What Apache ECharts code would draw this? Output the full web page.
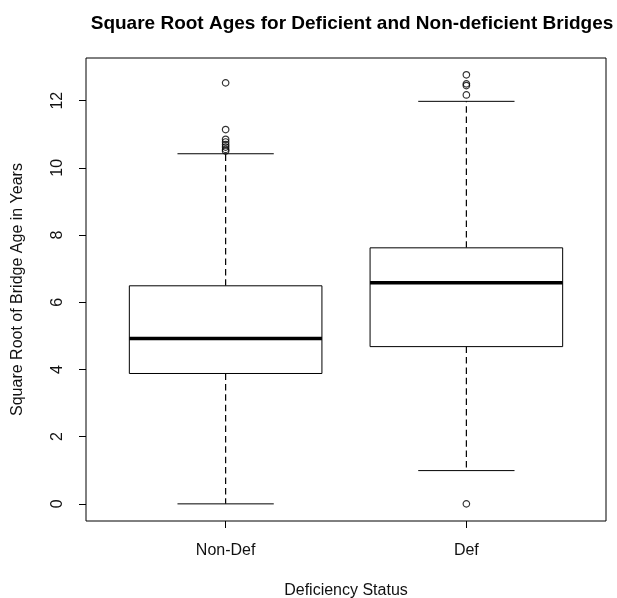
<!DOCTYPE html>
<html><head><meta charset="utf-8">
<script src="https://cdn.jsdelivr.net/npm/echarts@6/dist/echarts.min.js"></script>
<style>html,body{margin:0;padding:0;background:#fff}#c{width:617px;height:598px}</style>
</head><body><div id="c"></div>
<script>
const categories = ["Non-Def", "Def"];
const whiskerLow = [0, 0.99];
const q1 = [3.88, 4.68];
const median = [4.92, 6.58];
const q3 = [6.49, 7.62];
const whiskerHigh = [10.42, 11.98];
const outliersNonDef = [12.53, 11.14, 10.85, 10.77, 10.69, 10.62, 10.55, 10.5];
const outliersDef = [12.77, 12.5, 12.45, 12.17, 0];
const yTicks = [0, 2, 4, 6, 8, 10, 12];

const boxData = categories.map((c, i) => [i + 1, whiskerLow[i], q1[i], median[i], q3[i], whiskerHigh[i]]);
const outlierData = outliersNonDef.map(v => [1, v]).concat(outliersDef.map(v => [2, v]));

const chart = echarts.init(document.getElementById('c'), null, {renderer: 'canvas'});
const font = 'Liberation Sans, Arial, sans-serif';
const txt = '#111';
chart.setOption({
  animation: false,
  title: {
    text: 'Square Root Ages for Deficient and Non-deficient Bridges',
    left: 347, top: 9, textAlign: 'center',
    textStyle: {fontFamily: font, fontSize: 19, fontWeight: 'bold', color: '#000'}
  },
  grid: {left: 86, right: 11, top: 58, bottom: 77, show: true, borderColor: '#000', borderWidth: 1,
    backgroundColor: 'transparent', containLabel: false, outerBoundsMode: 'none'},
  xAxis: {
    type: 'value', min: 0.42, max: 2.58,
    name: 'Deficiency Status', nameLocation: 'middle', nameGap: 62,
    nameTextStyle: {fontFamily: font, fontSize: 16, color: txt},
    axisLine: {show: false, onZero: false},
    splitLine: {show: false},
    axisTick: {show: true, length: 7, customValues: [1, 2], lineStyle: {color: '#000'}},
    axisLabel: {customValues: [1, 2], margin: 22, fontFamily: font, fontSize: 16, color: txt,
      formatter: v => categories[Math.round(v) - 1] || ''}
  },
  yAxis: {
    type: 'value', min: -0.51, max: 13.27,
    name: 'Square Root of Bridge Age in Years', nameLocation: 'middle', nameGap: 60, nameRotate: 90,
    nameTextStyle: {fontFamily: font, fontSize: 16, color: txt},
    axisLine: {show: false, onZero: false},
    splitLine: {show: false},
    axisTick: {show: true, length: 7, customValues: yTicks, lineStyle: {color: '#000'}},
    axisLabel: {customValues: yTicks, rotate: 90, margin: 20, fontFamily: font, fontSize: 16, color: txt}
  },
  series: [
    {
      type: 'custom',
      data: boxData,
      renderItem: function (params, api) {
        const x = api.value(0);
        const lo = api.value(1), a = api.value(2), m = api.value(3), b = api.value(4), hi = api.value(5);
        const half = 0.4, cap = 0.2;
        const pL = api.coord([x - half, a]), pR = api.coord([x + half, b]);
        const cL = api.coord([x - cap, 0]), cR = api.coord([x + cap, 0]);
        const cx = api.coord([x, 0])[0];
        const yLo = api.coord([x, lo])[1], yA = api.coord([x, a])[1], yM = api.coord([x, m])[1],
              yB = api.coord([x, b])[1], yHi = api.coord([x, hi])[1];
        const blk = {stroke: '#000', lineWidth: 1, fill: null};
        const dash = {stroke: '#000', lineWidth: 1.2, lineDash: [6.5, 3.9]};
        return {type: 'group', children: [
          {type: 'line', shape: {x1: cx, y1: yA, x2: cx, y2: yLo}, style: dash},
          {type: 'line', shape: {x1: cx, y1: yB, x2: cx, y2: yHi}, style: dash},
          {type: 'line', shape: {x1: cL[0], y1: yLo, x2: cR[0], y2: yLo}, style: blk},
          {type: 'line', shape: {x1: cL[0], y1: yHi, x2: cR[0], y2: yHi}, style: blk},
          {type: 'rect', shape: {x: pL[0], y: yB, width: pR[0] - pL[0], height: yA - yB}, style: {stroke: '#000', lineWidth: 1, fill: '#fff'}},
          {type: 'line', shape: {x1: pL[0], y1: yM, x2: pR[0], y2: yM}, style: {stroke: '#000', lineWidth: 3.5}}
        ]};
      }
    },
    {
      type: 'scatter',
      data: outlierData,
      symbol: 'circle', symbolSize: 6.5,
      itemStyle: {color: 'transparent', borderColor: '#000', borderWidth: 1.2}
    }
  ]
});
</script></body></html>
